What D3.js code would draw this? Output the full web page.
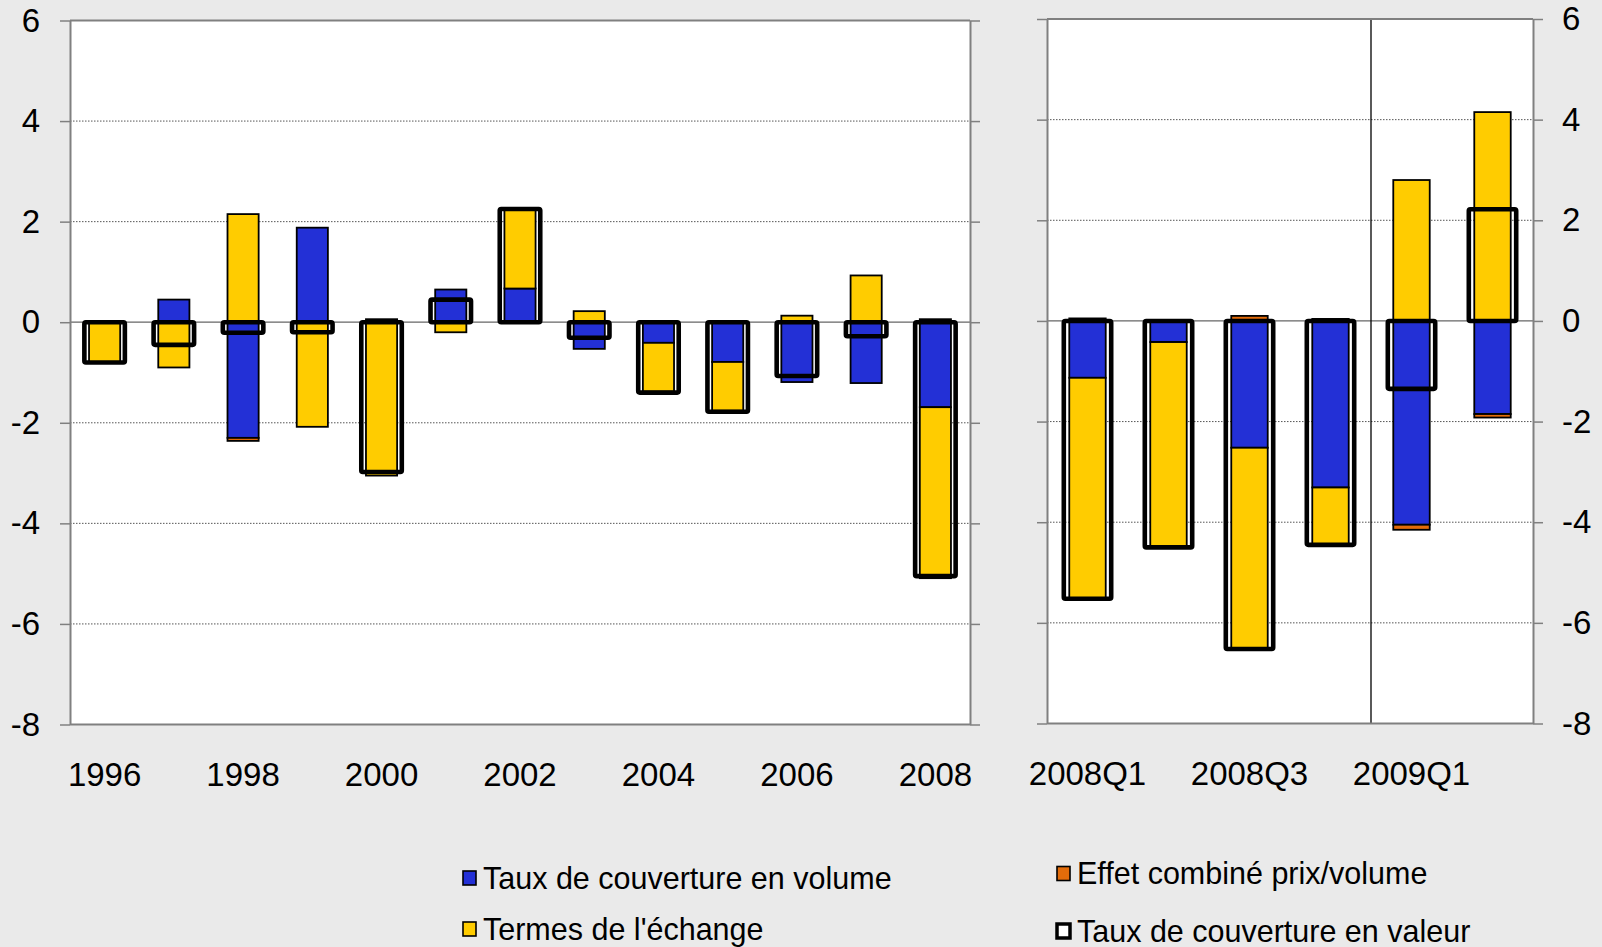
<!DOCTYPE html>
<html>
<head>
<meta charset="utf-8">
<script src="https://cdn.jsdelivr.net/npm/d3@7"></script>
<style>
  html, body { margin: 0; padding: 0; background: #EAEAEA; }
  svg { display: block; }
  text { font-family: "Liberation Sans", Arial, sans-serif; fill: #000; }
</style>
</head>
<body>
<svg id="chart" width="1602" height="947"></svg>
<script>
// ---------- DATA ----------
const yearCats = ["1996","1997","1998","1999","2000","2001","2002","2003","2004","2005","2006","2007","2008"];
const yearVolume   = [0, 0.45, -2.30, 1.88, 0.06, 0.65, 0.67, -0.53, -0.41, -0.79, -1.19, -1.21, -1.69];
const yearTerms    = [-0.80, -0.90, 2.15, -2.08, -3.05, -0.20, 1.58, 0.22, -0.97, -0.97, 0.13, 0.93, -3.40];
const yearCombined = [0, 0, -0.06, 0, 0, 0, 0, 0, 0, 0, 0, 0, 0.06];
const yearValue    = [-0.80, -0.45, -0.21, -0.20, -2.98, 0.45, 2.25, -0.31, -1.40, -1.78, -1.07, -0.28, -5.05];

const quarterCats = ["2008Q1","2008Q2","2008Q3","2008Q4","2009Q1","2009Q2"];
const quarterVolume   = [-1.13, -0.42, -2.52, -3.31, -4.05, -1.85];
const quarterTerms    = [-4.38, -4.09, -3.98, -1.14, 2.80, 4.15];
const quarterCombined = [0.05, 0, 0.10, 0.04, -0.10, -0.07];
const quarterValue    = [-5.52, -4.50, -6.52, -4.45, -1.35, 2.22];

const yTicks = [-8, -6, -4, -2, 0, 2, 4, 6];
const yearTickLabels = ["1996","1998","2000","2002","2004","2006","2008"];
const quarterTickLabels = ["2008Q1","2008Q3","2009Q1"];

const seriesNames = ["Taux de couverture en volume","Termes de l'échange","Effet combiné prix/volume","Taux de couverture en valeur"];
const colors = { volume: "#2330D6", terms: "#FFCC00", combined: "#E36C0A" };

// ---------- DRAW ----------
const svg = d3.select("#chart");

function panel(opts) {
  const { cats, vol, terms, comb, value, x0, x1, yTop, yBot, tickLabels, labelsLeft, divider } = opts;
  const g = svg.append("g");
  const x = d3.scaleBand().domain(cats).range([x0, x1]).paddingInner(0).paddingOuter(0);
  const y = d3.scaleLinear().domain([-8, 6]).range([yBot, yTop]);

  g.append("rect").attr("x", x0).attr("y", yTop).attr("width", x1 - x0).attr("height", yBot - yTop).attr("fill", "#fff");

  g.selectAll("line.grid").data(yTicks.filter(t => t !== 0 && t !== -8 && t !== 6)).join("line")
    .attr("class", "grid")
    .attr("x1", x0).attr("x2", x1)
    .attr("y1", d => y(d)).attr("y2", d => y(d))
    .attr("stroke", "#555").attr("stroke-width", 1).attr("stroke-dasharray", "1.5,1.5");
  g.append("line").attr("x1", x0).attr("x2", x1).attr("y1", y(0)).attr("y2", y(0))
    .attr("stroke", "#666").attr("stroke-width", 1.2);

  if (divider) {
    const xd = x(divider);
    g.append("line").attr("x1", xd).attr("x2", xd).attr("y1", yTop).attr("y2", yBot)
      .attr("stroke", "#000").attr("stroke-width", 1.3);
  }

  const rows = cats.map((c, i) => ({ cat: c, volume: vol[i], terms: terms[i], combined: comb[i] }));
  const stack = d3.stack().keys(["volume", "terms", "combined"]).offset(d3.stackOffsetDiverging);
  const layers = stack(rows);
  const bw = x.bandwidth();
  const sw = bw * 0.45;
  const fw = bw * 0.585;

  layers.forEach(layer => {
    g.append("g").selectAll("rect").data(layer.filter(d => d[1] !== d[0])).join("rect")
      .attr("x", d => x(d.data.cat) + (bw - sw) / 2)
      .attr("width", sw)
      .attr("y", d => y(Math.max(d[0], d[1])))
      .attr("height", d => Math.abs(y(d[0]) - y(d[1])))
      .attr("fill", colors[layer.key])
      .attr("stroke", "#000").attr("stroke-width", 1.8);
  });

  g.append("g").selectAll("rect").data(cats.map((c, i) => ({ cat: c, v: value[i] }))).join("rect")
    .attr("x", d => x(d.cat) + (bw - fw) / 2)
    .attr("width", fw)
    .attr("y", d => y(Math.max(0, d.v)))
    .attr("height", d => Math.abs(y(d.v) - y(0)))
    .attr("fill", "none")
    .attr("stroke", "#000").attr("stroke-width", 4.6)
    .attr("stroke-linejoin", "round").attr("rx", 1.5);

  const border = "#808080";
  g.append("line").attr("x1", x0).attr("x2", x1).attr("y1", yTop).attr("y2", yTop).attr("stroke", border).attr("stroke-width", 2);
  g.append("line").attr("x1", x0).attr("x2", x1).attr("y1", yBot).attr("y2", yBot).attr("stroke", border).attr("stroke-width", 2);

  const fmt = d => d;
  const axL = d3.axisLeft(y).tickValues(yTicks).tickSize(10).tickPadding(20).tickSizeOuter(0)
    .tickFormat(labelsLeft ? fmt : "");
  const gL = g.append("g").attr("transform", `translate(${x0},0)`).call(axL);
  const axR = d3.axisRight(y).tickValues(yTicks).tickSize(10).tickPadding(19).tickSizeOuter(0)
    .tickFormat(labelsLeft ? "" : fmt);
  const gR = g.append("g").attr("transform", `translate(${x1},0)`).call(axR);
  [gL, gR].forEach(a => {
    a.select(".domain").attr("stroke", border).attr("stroke-width", 2);
    a.selectAll(".tick line").attr("stroke", border).attr("stroke-width", 1.5);
    a.selectAll("text").attr("font-size", 33).attr("font-family", "Liberation Sans, Arial, sans-serif").attr("fill", "#000");
  });

  const axB = d3.axisBottom(x).tickSize(0).tickPadding(38)
    .tickFormat(d => tickLabels.includes(d) ? d : "");
  const gB = g.append("g").attr("transform", `translate(0,${yBot})`).call(axB);
  gB.select(".domain").remove();
  gB.selectAll("text").attr("font-size", 33).attr("font-family", "Liberation Sans, Arial, sans-serif").attr("fill", "#000");
}

panel({ cats: yearCats, vol: yearVolume, terms: yearTerms, comb: yearCombined, value: yearValue,
  x0: 70, x1: 970, yTop: 20.5, yBot: 724.5, tickLabels: yearTickLabels, labelsLeft: true });
panel({ cats: quarterCats, vol: quarterVolume, terms: quarterTerms, comb: quarterCombined, value: quarterValue,
  x0: 1047, x1: 1533, yTop: 19, yBot: 723.5, tickLabels: quarterTickLabels, labelsLeft: false, divider: "2009Q1" });

const legendItems = [
  { name: seriesNames[0], fill: colors.volume, sx: 463, cy: 878, thick: false },
  { name: seriesNames[1], fill: colors.terms, sx: 463, cy: 929, thick: false },
  { name: seriesNames[2], fill: colors.combined, sx: 1057, cy: 873.5, thick: false },
  { name: seriesNames[3], fill: "#fff", sx: 1057, cy: 931, thick: true }
];
const lg = svg.append("g");
legendItems.forEach(it => {
  lg.append("rect").attr("x", it.sx).attr("y", it.cy - 7).attr("width", 13).attr("height", 14)
    .attr("fill", it.fill).attr("stroke", "#000").attr("stroke-width", it.thick ? 3.5 : 1.6);
  lg.append("text").attr("x", it.sx + 20).attr("y", it.cy).attr("dy", "0.35em")
    .attr("font-size", 30.5).text(it.name);
});
</script>
</body>
</html>
